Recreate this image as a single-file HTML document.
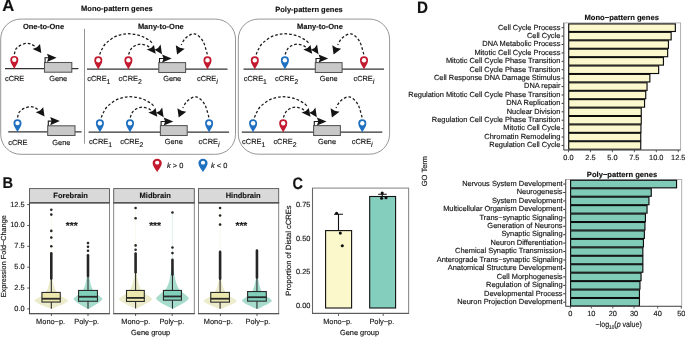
<!DOCTYPE html>
<html><head><meta charset="utf-8"><style>
html,body{margin:0;padding:0;background:#fff;width:685px;height:337px;overflow:hidden}
svg{display:block;will-change:transform}
text{font-family:'Liberation Sans', sans-serif;text-rendering:geometricPrecision;stroke:#161616;stroke-width:0.15px}
</style></head><body>
<svg width="685" height="337" viewBox="0 0 685 337" font-family="'Liberation Sans', sans-serif">
<rect width="685" height="337" fill="#fff"/>
<text transform="translate(2.20,10.75) scale(1.0,1)" x="0" y="0" font-size="16.6" font-weight="bold" fill="#111">A</text>
<text x="116.90" y="10.90" font-size="7.5" text-anchor="middle" fill="#141414" font-weight="bold">Mono-pattern genes</text>
<text x="309.00" y="11.50" font-size="7.5" text-anchor="middle" fill="#141414" font-weight="bold">Poly-pattern genes</text>
<rect x="0.7" y="19.1" width="234.8" height="135.2" rx="20" ry="20" fill="none" stroke="#8a8a8a" stroke-width="0.9"/>
<rect x="238.3" y="19.1" width="151.3" height="135.1" rx="20" ry="20" fill="none" stroke="#8a8a8a" stroke-width="0.9"/>
<line x1="84.5" y1="28.8" x2="84.5" y2="143.7" stroke="#8a8a8a" stroke-width="0.9"/>
<text x="43.50" y="29.30" font-size="7.5" text-anchor="middle" fill="#141414" font-weight="bold">One-to-One</text>
<text x="160.80" y="29.30" font-size="7.5" text-anchor="middle" fill="#141414" font-weight="bold">Many-to-One</text>
<text x="319.90" y="29.30" font-size="7.5" text-anchor="middle" fill="#141414" font-weight="bold">Many-to-One</text>
<line x1="5.00" y1="68.60" x2="78.40" y2="68.60" stroke="#333" stroke-width="1.25"/>
<rect x="44.50" y="62.50" width="27.30" height="9.70" fill="#c8c8c8" stroke="#555" stroke-width="1.05"/>
<path d="M45.10,62.50 L45.10,57.80 L49.60,57.80" fill="none" stroke="#1a1a1a" stroke-width="1.1"/>
<path d="M56.60,57.80 L47.00,53.70 L48.40,57.80 L47.00,61.90Z" fill="#141414"/>
<path d="M14.40,54.20 C14.58,53.45 14.97,50.83 15.50,49.70 C16.03,48.57 16.72,48.17 17.60,47.40 C18.48,46.63 19.25,45.78 20.80,45.10 C22.35,44.42 25.12,43.43 26.90,43.30 C28.68,43.17 30.22,43.82 31.50,44.30 C32.78,44.78 34.08,45.88 34.60,46.20" fill="none" stroke="#1a1a1a" stroke-width="1.25" stroke-dasharray="2.7 2.0"/>
<path d="M41.30,53.10 L32.60,49.00 L36.90,47.29 L40.00,44.00Z" fill="#141414"/>
<g transform="translate(14.30,69.00) scale(1.0)"><path d="M0,0 C-0.9,-2.6 -4.05,-5.6 -4.05,-9 A4.05,4.05 0 1 1 4.05,-9 C4.05,-5.6 0.9,-2.6 0,0Z" fill="#c41a30"/><circle cx="0" cy="-9.2" r="2.2" fill="#fff"/></g>
<text x="5.00" y="81.30" font-size="7.4" text-anchor="start" fill="#141414">cCRE</text>
<text x="58.20" y="81.30" font-size="7.4" text-anchor="middle" fill="#141414">Gene</text>
<line x1="8.20" y1="131.90" x2="81.60" y2="131.90" stroke="#333" stroke-width="1.25"/>
<rect x="47.70" y="125.80" width="27.30" height="9.70" fill="#c8c8c8" stroke="#555" stroke-width="1.05"/>
<path d="M48.30,125.80 L48.30,121.10 L52.80,121.10" fill="none" stroke="#1a1a1a" stroke-width="1.1"/>
<path d="M59.80,121.10 L50.20,117.00 L51.60,121.10 L50.20,125.20Z" fill="#141414"/>
<path d="M17.60,117.50 C17.78,116.75 18.17,114.13 18.70,113.00 C19.23,111.87 19.92,111.47 20.80,110.70 C21.68,109.93 22.45,109.08 24.00,108.40 C25.55,107.72 28.32,106.73 30.10,106.60 C31.88,106.47 33.42,107.12 34.70,107.60 C35.98,108.08 37.28,109.18 37.80,109.50" fill="none" stroke="#1a1a1a" stroke-width="1.25" stroke-dasharray="2.7 2.0"/>
<path d="M44.50,116.40 L35.80,112.30 L40.10,110.59 L43.20,107.30Z" fill="#141414"/>
<g transform="translate(17.50,132.30) scale(1.0)"><path d="M0,0 C-0.9,-2.6 -4.05,-5.6 -4.05,-9 A4.05,4.05 0 1 1 4.05,-9 C4.05,-5.6 0.9,-2.6 0,0Z" fill="#1f70c1"/><circle cx="0" cy="-9.2" r="2.2" fill="#fff"/></g>
<text x="8.20" y="144.60" font-size="7.4" text-anchor="start" fill="#141414">cCRE</text>
<text x="61.40" y="144.60" font-size="7.4" text-anchor="middle" fill="#141414">Gene</text>
<line x1="87.00" y1="69.20" x2="227.50" y2="69.20" stroke="#333" stroke-width="1.25"/>
<rect x="158.80" y="62.60" width="26.80" height="9.90" fill="#c8c8c8" stroke="#555" stroke-width="1.05"/>
<path d="M159.50,62.60 L159.50,58.50 L164.70,58.50" fill="none" stroke="#1a1a1a" stroke-width="1.1"/>
<path d="M171.70,58.50 L162.10,54.40 L163.50,58.50 L162.10,62.60Z" fill="#141414"/>
<path d="M99.60,54.60 C99.95,53.80 100.83,51.48 101.70,49.80 C102.57,48.12 103.53,46.05 104.80,44.50 C106.07,42.95 107.67,41.77 109.30,40.50 C110.93,39.23 112.75,37.85 114.60,36.90 C116.45,35.95 118.47,35.32 120.40,34.80 C122.33,34.28 124.23,33.93 126.20,33.80 C128.17,33.67 130.17,33.78 132.20,34.00 C134.23,34.22 136.40,34.53 138.40,35.10 C140.40,35.67 142.35,36.50 144.20,37.40 C146.05,38.30 148.10,39.47 149.50,40.50 C150.90,41.53 152.08,43.08 152.60,43.60" fill="none" stroke="#1a1a1a" stroke-width="1.25" stroke-dasharray="2.7 2.0"/>
<path d="M128.60,54.60 C128.97,53.73 129.77,50.87 130.80,49.40 C131.83,47.93 133.17,46.67 134.80,45.80 C136.43,44.93 138.67,44.27 140.60,44.20 C142.53,44.13 144.97,44.93 146.40,45.40 C147.83,45.87 148.73,46.73 149.20,47.00" fill="none" stroke="#1a1a1a" stroke-width="1.25" stroke-dasharray="2.7 2.0"/>
<path d="M207.30,54.40 C206.98,53.25 206.02,49.48 205.40,47.50 C204.78,45.52 204.45,44.15 203.60,42.50 C202.75,40.85 201.82,39.05 200.30,37.60 C198.78,36.15 196.47,34.10 194.50,33.80 C192.53,33.50 190.25,34.77 188.50,35.80 C186.75,36.83 185.22,38.47 184.00,40.00 C182.78,41.53 181.67,44.17 181.20,45.00" fill="none" stroke="#1a1a1a" stroke-width="1.25" stroke-dasharray="2.7 2.0"/>
<path d="M155.70,53.80 L146.80,49.40 L151.04,47.95 L154.00,44.90Z" fill="#141414"/>
<path d="M162.00,54.30 L154.40,49.80 L158.04,48.01 L160.60,44.50Z" fill="#141414"/>
<path d="M177.10,54.50 L175.80,45.20 L179.87,47.86 L184.70,48.70Z" fill="#141414"/>
<g transform="translate(98.30,69.40) scale(1.0)"><path d="M0,0 C-0.9,-2.6 -4.05,-5.6 -4.05,-9 A4.05,4.05 0 1 1 4.05,-9 C4.05,-5.6 0.9,-2.6 0,0Z" fill="#c41a30"/><circle cx="0" cy="-9.2" r="2.2" fill="#fff"/></g>
<g transform="translate(128.40,69.40) scale(1.0)"><path d="M0,0 C-0.9,-2.6 -4.05,-5.6 -4.05,-9 A4.05,4.05 0 1 1 4.05,-9 C4.05,-5.6 0.9,-2.6 0,0Z" fill="#c41a30"/><circle cx="0" cy="-9.2" r="2.2" fill="#fff"/></g>
<g transform="translate(207.50,69.40) scale(1.0)"><path d="M0,0 C-0.9,-2.6 -4.05,-5.6 -4.05,-9 A4.05,4.05 0 1 1 4.05,-9 C4.05,-5.6 0.9,-2.6 0,0Z" fill="#c41a30"/><circle cx="0" cy="-9.2" r="2.2" fill="#fff"/></g>
<text x="87.30" y="81.30" font-size="7.4" fill="#141414">cCRE<tspan dy="2.5" font-size="6.9">1</tspan></text>
<text x="118.60" y="81.30" font-size="7.4" fill="#141414">cCRE<tspan dy="2.5" font-size="6.9">2</tspan></text>
<text x="172.20" y="81.30" font-size="7.4" text-anchor="middle" fill="#141414">Gene</text>
<text x="197.00" y="81.30" font-size="7.4" fill="#141414">cCRE<tspan dy="2.9" font-size="7.3" font-style="italic">i</tspan></text>
<line x1="88.60" y1="132.20" x2="229.10" y2="132.20" stroke="#333" stroke-width="1.25"/>
<rect x="160.40" y="125.60" width="26.80" height="9.90" fill="#c8c8c8" stroke="#555" stroke-width="1.05"/>
<path d="M161.10,125.60 L161.10,121.50 L166.30,121.50" fill="none" stroke="#1a1a1a" stroke-width="1.1"/>
<path d="M173.30,121.50 L163.70,117.40 L165.10,121.50 L163.70,125.60Z" fill="#141414"/>
<path d="M101.20,117.60 C101.55,116.80 102.43,114.48 103.30,112.80 C104.17,111.12 105.13,109.05 106.40,107.50 C107.67,105.95 109.27,104.77 110.90,103.50 C112.53,102.23 114.35,100.85 116.20,99.90 C118.05,98.95 120.07,98.32 122.00,97.80 C123.93,97.28 125.83,96.93 127.80,96.80 C129.77,96.67 131.77,96.78 133.80,97.00 C135.83,97.22 138.00,97.53 140.00,98.10 C142.00,98.67 143.95,99.50 145.80,100.40 C147.65,101.30 149.70,102.47 151.10,103.50 C152.50,104.53 153.68,106.08 154.20,106.60" fill="none" stroke="#1a1a1a" stroke-width="1.25" stroke-dasharray="2.7 2.0"/>
<path d="M130.20,117.60 C130.57,116.73 131.37,113.87 132.40,112.40 C133.43,110.93 134.77,109.67 136.40,108.80 C138.03,107.93 140.27,107.27 142.20,107.20 C144.13,107.13 146.57,107.93 148.00,108.40 C149.43,108.87 150.33,109.73 150.80,110.00" fill="none" stroke="#1a1a1a" stroke-width="1.25" stroke-dasharray="2.7 2.0"/>
<path d="M208.90,117.40 C208.58,116.25 207.62,112.48 207.00,110.50 C206.38,108.52 206.05,107.15 205.20,105.50 C204.35,103.85 203.42,102.05 201.90,100.60 C200.38,99.15 198.07,97.10 196.10,96.80 C194.13,96.50 191.85,97.77 190.10,98.80 C188.35,99.83 186.82,101.47 185.60,103.00 C184.38,104.53 183.27,107.17 182.80,108.00" fill="none" stroke="#1a1a1a" stroke-width="1.25" stroke-dasharray="2.7 2.0"/>
<path d="M157.30,116.80 L148.40,112.40 L152.64,110.95 L155.60,107.90Z" fill="#141414"/>
<path d="M163.60,117.30 L156.00,112.80 L159.64,111.01 L162.20,107.50Z" fill="#141414"/>
<path d="M178.70,117.50 L177.40,108.20 L181.47,110.86 L186.30,111.70Z" fill="#141414"/>
<g transform="translate(99.90,132.40) scale(1.0)"><path d="M0,0 C-0.9,-2.6 -4.05,-5.6 -4.05,-9 A4.05,4.05 0 1 1 4.05,-9 C4.05,-5.6 0.9,-2.6 0,0Z" fill="#1f70c1"/><circle cx="0" cy="-9.2" r="2.2" fill="#fff"/></g>
<g transform="translate(130.00,132.40) scale(1.0)"><path d="M0,0 C-0.9,-2.6 -4.05,-5.6 -4.05,-9 A4.05,4.05 0 1 1 4.05,-9 C4.05,-5.6 0.9,-2.6 0,0Z" fill="#1f70c1"/><circle cx="0" cy="-9.2" r="2.2" fill="#fff"/></g>
<g transform="translate(209.10,132.40) scale(1.0)"><path d="M0,0 C-0.9,-2.6 -4.05,-5.6 -4.05,-9 A4.05,4.05 0 1 1 4.05,-9 C4.05,-5.6 0.9,-2.6 0,0Z" fill="#1f70c1"/><circle cx="0" cy="-9.2" r="2.2" fill="#fff"/></g>
<text x="88.90" y="144.30" font-size="7.4" fill="#141414">cCRE<tspan dy="2.5" font-size="6.9">1</tspan></text>
<text x="120.20" y="144.30" font-size="7.4" fill="#141414">cCRE<tspan dy="2.5" font-size="6.9">2</tspan></text>
<text x="173.80" y="144.30" font-size="7.4" text-anchor="middle" fill="#141414">Gene</text>
<text x="198.60" y="144.30" font-size="7.4" fill="#141414">cCRE<tspan dy="2.9" font-size="7.3" font-style="italic">i</tspan></text>
<line x1="243.50" y1="69.20" x2="384.00" y2="69.20" stroke="#333" stroke-width="1.25"/>
<rect x="315.30" y="62.60" width="26.80" height="9.90" fill="#c8c8c8" stroke="#555" stroke-width="1.05"/>
<path d="M316.00,62.60 L316.00,58.50 L321.20,58.50" fill="none" stroke="#1a1a1a" stroke-width="1.1"/>
<path d="M328.20,58.50 L318.60,54.40 L320.00,58.50 L318.60,62.60Z" fill="#141414"/>
<path d="M256.10,54.60 C256.45,53.80 257.33,51.48 258.20,49.80 C259.07,48.12 260.03,46.05 261.30,44.50 C262.57,42.95 264.17,41.77 265.80,40.50 C267.43,39.23 269.25,37.85 271.10,36.90 C272.95,35.95 274.97,35.32 276.90,34.80 C278.83,34.28 280.73,33.93 282.70,33.80 C284.67,33.67 286.67,33.78 288.70,34.00 C290.73,34.22 292.90,34.53 294.90,35.10 C296.90,35.67 298.85,36.50 300.70,37.40 C302.55,38.30 304.60,39.47 306.00,40.50 C307.40,41.53 308.58,43.08 309.10,43.60" fill="none" stroke="#1a1a1a" stroke-width="1.25" stroke-dasharray="2.7 2.0"/>
<path d="M285.10,54.60 C285.47,53.73 286.27,50.87 287.30,49.40 C288.33,47.93 289.67,46.67 291.30,45.80 C292.93,44.93 295.17,44.27 297.10,44.20 C299.03,44.13 301.47,44.93 302.90,45.40 C304.33,45.87 305.23,46.73 305.70,47.00" fill="none" stroke="#1a1a1a" stroke-width="1.25" stroke-dasharray="2.7 2.0"/>
<path d="M363.80,54.40 C363.48,53.25 362.52,49.48 361.90,47.50 C361.28,45.52 360.95,44.15 360.10,42.50 C359.25,40.85 358.32,39.05 356.80,37.60 C355.28,36.15 352.97,34.10 351.00,33.80 C349.03,33.50 346.75,34.77 345.00,35.80 C343.25,36.83 341.72,38.47 340.50,40.00 C339.28,41.53 338.17,44.17 337.70,45.00" fill="none" stroke="#1a1a1a" stroke-width="1.25" stroke-dasharray="2.7 2.0"/>
<path d="M312.20,53.80 L303.30,49.40 L307.54,47.95 L310.50,44.90Z" fill="#141414"/>
<path d="M318.50,54.30 L310.90,49.80 L314.54,48.01 L317.10,44.50Z" fill="#141414"/>
<path d="M333.60,54.50 L332.30,45.20 L336.37,47.86 L341.20,48.70Z" fill="#141414"/>
<g transform="translate(254.80,69.40) scale(1.0)"><path d="M0,0 C-0.9,-2.6 -4.05,-5.6 -4.05,-9 A4.05,4.05 0 1 1 4.05,-9 C4.05,-5.6 0.9,-2.6 0,0Z" fill="#c41a30"/><circle cx="0" cy="-9.2" r="2.2" fill="#fff"/></g>
<g transform="translate(284.90,69.40) scale(1.0)"><path d="M0,0 C-0.9,-2.6 -4.05,-5.6 -4.05,-9 A4.05,4.05 0 1 1 4.05,-9 C4.05,-5.6 0.9,-2.6 0,0Z" fill="#1f70c1"/><circle cx="0" cy="-9.2" r="2.2" fill="#fff"/></g>
<g transform="translate(364.00,69.40) scale(1.0)"><path d="M0,0 C-0.9,-2.6 -4.05,-5.6 -4.05,-9 A4.05,4.05 0 1 1 4.05,-9 C4.05,-5.6 0.9,-2.6 0,0Z" fill="#c41a30"/><circle cx="0" cy="-9.2" r="2.2" fill="#fff"/></g>
<text x="243.80" y="81.30" font-size="7.4" fill="#141414">cCRE<tspan dy="2.5" font-size="6.9">1</tspan></text>
<text x="275.10" y="81.30" font-size="7.4" fill="#141414">cCRE<tspan dy="2.5" font-size="6.9">2</tspan></text>
<text x="328.70" y="81.30" font-size="7.4" text-anchor="middle" fill="#141414">Gene</text>
<text x="353.50" y="81.30" font-size="7.4" fill="#141414">cCRE<tspan dy="2.9" font-size="7.3" font-style="italic">i</tspan></text>
<line x1="241.80" y1="132.20" x2="382.30" y2="132.20" stroke="#333" stroke-width="1.25"/>
<rect x="313.60" y="125.60" width="26.80" height="9.90" fill="#c8c8c8" stroke="#555" stroke-width="1.05"/>
<path d="M314.30,125.60 L314.30,121.50 L319.50,121.50" fill="none" stroke="#1a1a1a" stroke-width="1.1"/>
<path d="M326.50,121.50 L316.90,117.40 L318.30,121.50 L316.90,125.60Z" fill="#141414"/>
<path d="M254.40,117.60 C254.75,116.80 255.63,114.48 256.50,112.80 C257.37,111.12 258.33,109.05 259.60,107.50 C260.87,105.95 262.47,104.77 264.10,103.50 C265.73,102.23 267.55,100.85 269.40,99.90 C271.25,98.95 273.27,98.32 275.20,97.80 C277.13,97.28 279.03,96.93 281.00,96.80 C282.97,96.67 284.97,96.78 287.00,97.00 C289.03,97.22 291.20,97.53 293.20,98.10 C295.20,98.67 297.15,99.50 299.00,100.40 C300.85,101.30 302.90,102.47 304.30,103.50 C305.70,104.53 306.88,106.08 307.40,106.60" fill="none" stroke="#1a1a1a" stroke-width="1.25" stroke-dasharray="2.7 2.0"/>
<path d="M283.40,117.60 C283.77,116.73 284.57,113.87 285.60,112.40 C286.63,110.93 287.97,109.67 289.60,108.80 C291.23,107.93 293.47,107.27 295.40,107.20 C297.33,107.13 299.77,107.93 301.20,108.40 C302.63,108.87 303.53,109.73 304.00,110.00" fill="none" stroke="#1a1a1a" stroke-width="1.25" stroke-dasharray="2.7 2.0"/>
<path d="M362.10,117.40 C361.78,116.25 360.82,112.48 360.20,110.50 C359.58,108.52 359.25,107.15 358.40,105.50 C357.55,103.85 356.62,102.05 355.10,100.60 C353.58,99.15 351.27,97.10 349.30,96.80 C347.33,96.50 345.05,97.77 343.30,98.80 C341.55,99.83 340.02,101.47 338.80,103.00 C337.58,104.53 336.47,107.17 336.00,108.00" fill="none" stroke="#1a1a1a" stroke-width="1.25" stroke-dasharray="2.7 2.0"/>
<path d="M310.50,116.80 L301.60,112.40 L305.84,110.95 L308.80,107.90Z" fill="#141414"/>
<path d="M316.80,117.30 L309.20,112.80 L312.84,111.01 L315.40,107.50Z" fill="#141414"/>
<path d="M331.90,117.50 L330.60,108.20 L334.67,110.86 L339.50,111.70Z" fill="#141414"/>
<g transform="translate(253.10,132.40) scale(1.0)"><path d="M0,0 C-0.9,-2.6 -4.05,-5.6 -4.05,-9 A4.05,4.05 0 1 1 4.05,-9 C4.05,-5.6 0.9,-2.6 0,0Z" fill="#1f70c1"/><circle cx="0" cy="-9.2" r="2.2" fill="#fff"/></g>
<g transform="translate(283.20,132.40) scale(1.0)"><path d="M0,0 C-0.9,-2.6 -4.05,-5.6 -4.05,-9 A4.05,4.05 0 1 1 4.05,-9 C4.05,-5.6 0.9,-2.6 0,0Z" fill="#c41a30"/><circle cx="0" cy="-9.2" r="2.2" fill="#fff"/></g>
<g transform="translate(362.30,132.40) scale(1.0)"><path d="M0,0 C-0.9,-2.6 -4.05,-5.6 -4.05,-9 A4.05,4.05 0 1 1 4.05,-9 C4.05,-5.6 0.9,-2.6 0,0Z" fill="#1f70c1"/><circle cx="0" cy="-9.2" r="2.2" fill="#fff"/></g>
<text x="242.10" y="144.30" font-size="7.4" fill="#141414">cCRE<tspan dy="2.5" font-size="6.9">1</tspan></text>
<text x="273.40" y="144.30" font-size="7.4" fill="#141414">cCRE<tspan dy="2.5" font-size="6.9">2</tspan></text>
<text x="327.00" y="144.30" font-size="7.4" text-anchor="middle" fill="#141414">Gene</text>
<text x="351.80" y="144.30" font-size="7.4" fill="#141414">cCRE<tspan dy="2.9" font-size="7.3" font-style="italic">i</tspan></text>
<g transform="translate(157.20,172.30) scale(1.13,1.04)"><path d="M0,0 C-0.9,-2.6 -4.05,-5.6 -4.05,-9 A4.05,4.05 0 1 1 4.05,-9 C4.05,-5.6 0.9,-2.6 0,0Z" fill="#c41a30"/><circle cx="0" cy="-9.3" r="1.85" fill="#fff"/></g>
<text x="167.0" y="168.0" font-size="7.4" fill="#141414"><tspan font-style="italic">k</tspan> &gt; 0</text>
<g transform="translate(203.00,172.30) scale(1.13,1.04)"><path d="M0,0 C-0.9,-2.6 -4.05,-5.6 -4.05,-9 A4.05,4.05 0 1 1 4.05,-9 C4.05,-5.6 0.9,-2.6 0,0Z" fill="#1f70c1"/><circle cx="0" cy="-9.3" r="1.85" fill="#fff"/></g>
<text x="211.0" y="168.0" font-size="7.4" fill="#141414"><tspan font-style="italic">k</tspan> &lt; 0</text>
<text transform="translate(2.60,187.70) scale(0.94,1)" x="0" y="0" font-size="15.6" font-weight="bold" fill="#111">B</text>
<rect x="29.50" y="188.6" width="80.00" height="14.4" fill="#d9d9d9" stroke="#555" stroke-width="0.9"/>
<rect x="29.50" y="203.0" width="80.00" height="110.70" fill="#fff" stroke="#7a7a7a" stroke-width="0.9"/>
<line x1="29.05" y1="202.8" x2="109.95" y2="202.8" stroke="#555" stroke-width="1.4"/>
<text x="70.60" y="198.40" font-size="7.5" text-anchor="middle" fill="#141414" font-weight="bold">Forebrain</text>
<rect x="113.70" y="188.6" width="80.60" height="14.4" fill="#d9d9d9" stroke="#555" stroke-width="0.9"/>
<rect x="113.70" y="203.0" width="80.60" height="110.70" fill="#fff" stroke="#7a7a7a" stroke-width="0.9"/>
<line x1="113.25" y1="202.8" x2="194.75" y2="202.8" stroke="#555" stroke-width="1.4"/>
<text x="155.20" y="198.40" font-size="7.5" text-anchor="middle" fill="#141414" font-weight="bold">Midbrain</text>
<rect x="198.50" y="188.6" width="80.20" height="14.4" fill="#d9d9d9" stroke="#555" stroke-width="0.9"/>
<rect x="198.50" y="203.0" width="80.20" height="110.70" fill="#fff" stroke="#7a7a7a" stroke-width="0.9"/>
<line x1="198.05" y1="202.8" x2="279.15" y2="202.8" stroke="#555" stroke-width="1.4"/>
<text x="243.20" y="198.40" font-size="7.5" text-anchor="middle" fill="#141414" font-weight="bold">Hindbrain</text>
<line x1="29.5" y1="203" x2="29.5" y2="313.7" stroke="#444" stroke-width="1"/>
<line x1="27.2" y1="204.60" x2="29.5" y2="204.60" stroke="#444" stroke-width="0.9"/>
<text x="24.60" y="206.50" font-size="7.4" text-anchor="end" fill="#1a1a1a">12.5</text>
<line x1="27.2" y1="225.46" x2="29.5" y2="225.46" stroke="#444" stroke-width="0.9"/>
<text x="24.60" y="227.36" font-size="7.4" text-anchor="end" fill="#1a1a1a">10.0</text>
<line x1="27.2" y1="246.32" x2="29.5" y2="246.32" stroke="#444" stroke-width="0.9"/>
<text x="24.60" y="248.22" font-size="7.4" text-anchor="end" fill="#1a1a1a">7.5</text>
<line x1="27.2" y1="267.18" x2="29.5" y2="267.18" stroke="#444" stroke-width="0.9"/>
<text x="24.60" y="269.08" font-size="7.4" text-anchor="end" fill="#1a1a1a">5.0</text>
<line x1="27.2" y1="288.04" x2="29.5" y2="288.04" stroke="#444" stroke-width="0.9"/>
<text x="24.60" y="289.94" font-size="7.4" text-anchor="end" fill="#1a1a1a">2.5</text>
<line x1="27.2" y1="308.90" x2="29.5" y2="308.90" stroke="#444" stroke-width="0.9"/>
<text x="24.60" y="310.80" font-size="7.4" text-anchor="end" fill="#1a1a1a">0.0</text>
<line x1="29.00" y1="313.7" x2="110.00" y2="313.7" stroke="#444" stroke-width="1"/>
<line x1="51.40" y1="313.7" x2="51.40" y2="316.0" stroke="#444" stroke-width="0.9"/>
<text x="50.60" y="324.20" font-size="7.4" text-anchor="middle" fill="#1a1a1a">Mono−p.</text>
<line x1="88.00" y1="313.7" x2="88.00" y2="316.0" stroke="#444" stroke-width="0.9"/>
<text x="86.70" y="324.20" font-size="7.4" text-anchor="middle" fill="#1a1a1a">Poly−p.</text>
<line x1="113.20" y1="313.7" x2="194.80" y2="313.7" stroke="#444" stroke-width="1"/>
<line x1="135.60" y1="313.7" x2="135.60" y2="316.0" stroke="#444" stroke-width="0.9"/>
<text x="135.80" y="324.20" font-size="7.4" text-anchor="middle" fill="#1a1a1a">Mono−p.</text>
<line x1="172.20" y1="313.7" x2="172.20" y2="316.0" stroke="#444" stroke-width="0.9"/>
<text x="171.85" y="324.20" font-size="7.4" text-anchor="middle" fill="#1a1a1a">Poly−p.</text>
<line x1="198.00" y1="313.7" x2="279.20" y2="313.7" stroke="#444" stroke-width="1"/>
<line x1="220.40" y1="313.7" x2="220.40" y2="316.0" stroke="#444" stroke-width="0.9"/>
<text x="218.30" y="324.20" font-size="7.4" text-anchor="middle" fill="#1a1a1a">Mono−p.</text>
<line x1="257.00" y1="313.7" x2="257.00" y2="316.0" stroke="#444" stroke-width="0.9"/>
<text x="257.90" y="324.20" font-size="7.4" text-anchor="middle" fill="#1a1a1a">Poly−p.</text>
<text transform="translate(6.4,256.3) rotate(-90)" x="0" y="0" font-size="7.3" text-anchor="middle" fill="#141414">Expression Fold−Change</text>
<text x="150.60" y="334.60" font-size="7.4" text-anchor="middle" fill="#141414">Gene group</text>
<text x="71.70" y="229.30" font-size="10.2" text-anchor="middle" fill="#1a1a1a" font-weight="bold">***</text>
<text x="155.10" y="229.30" font-size="10.2" text-anchor="middle" fill="#1a1a1a" font-weight="bold">***</text>
<text x="241.40" y="229.30" font-size="10.2" text-anchor="middle" fill="#1a1a1a" font-weight="bold">***</text>
<line x1="51.30" y1="209.70" x2="51.30" y2="276.50" stroke="#ecebcb" stroke-width="0.6" stroke-opacity="0.6"/>
<path d="M51.80,276.50 C51.91,276.98 52.12,277.95 52.47,279.40 C52.82,280.86 53.33,283.36 53.89,285.21 C54.45,287.07 54.93,288.96 55.81,290.54 C56.69,292.11 57.62,293.36 59.15,294.65 C60.68,295.94 63.52,297.27 64.99,298.28 C66.47,299.29 67.78,300.03 68.00,300.70 C68.22,301.37 67.00,301.81 66.33,302.30 C65.66,302.79 65.05,303.13 63.99,303.66 C62.93,304.19 61.29,304.93 59.98,305.50 C58.68,306.07 57.48,306.57 56.14,307.10 C54.81,307.63 53.58,308.70 51.97,308.70 C50.35,308.70 48.02,307.63 46.46,307.10 C44.90,306.57 43.92,306.07 42.62,305.50 C41.31,304.93 39.67,304.19 38.61,303.66 C37.55,303.13 36.94,302.79 36.27,302.30 C35.60,301.81 34.38,301.37 34.60,300.70 C34.82,300.03 36.13,299.29 37.61,298.28 C39.08,297.27 41.92,295.94 43.45,294.65 C44.98,293.36 45.91,292.11 46.79,290.54 C47.67,288.96 48.15,287.07 48.71,285.21 C49.27,283.36 49.78,280.86 50.13,279.40 C50.48,277.95 50.69,276.98 50.80,276.50Z" fill="#ecebcb"/>
<line x1="51.30" y1="278.60" x2="51.30" y2="308.70" stroke="#262626" stroke-width="1.05"/>
<line x1="51.30" y1="253.30" x2="51.30" y2="278.60" stroke="#262626" stroke-width="2.6" stroke-linecap="round"/>
<circle cx="51.30" cy="209.70" r="1.3" fill="#262626"/>
<circle cx="51.30" cy="214.60" r="1.3" fill="#262626"/>
<circle cx="51.30" cy="230.90" r="1.3" fill="#262626"/>
<circle cx="51.30" cy="237.60" r="1.3" fill="#262626"/>
<circle cx="51.30" cy="246.30" r="1.3" fill="#262626"/>
<rect x="41.95" y="292.45" width="18.30" height="9.60" fill="#ece7ac" stroke="#2a2a2a" stroke-width="1.1"/>
<line x1="41.95" y1="298.75" x2="60.25" y2="298.75" stroke="#2a2a2a" stroke-width="1.8"/>
<line x1="88.00" y1="243.00" x2="88.00" y2="273.00" stroke="#a7dccd" stroke-width="0.6" stroke-opacity="0.6"/>
<path d="M88.43,273.00 C88.53,273.51 88.71,274.54 89.01,276.08 C89.31,277.63 89.75,280.28 90.23,282.25 C90.71,284.22 91.13,286.24 91.89,287.91 C92.64,289.58 93.45,290.90 94.77,292.27 C96.09,293.65 98.54,295.06 99.81,296.13 C101.08,297.20 102.21,297.94 102.40,298.70 C102.59,299.46 101.54,300.08 100.96,300.70 C100.38,301.32 99.86,301.73 98.94,302.40 C98.03,303.07 96.62,303.98 95.49,304.70 C94.36,305.42 93.33,306.03 92.18,306.70 C91.02,307.37 89.97,308.70 88.58,308.70 C87.18,308.70 85.17,307.37 83.82,306.70 C82.48,306.03 81.64,305.42 80.51,304.70 C79.38,303.98 77.97,303.07 77.06,302.40 C76.14,301.73 75.62,301.32 75.04,300.70 C74.46,300.08 73.41,299.46 73.60,298.70 C73.79,297.94 74.92,297.20 76.19,296.13 C77.46,295.06 79.91,293.65 81.23,292.27 C82.55,290.90 83.36,289.58 84.11,287.91 C84.87,286.24 85.29,284.22 85.77,282.25 C86.25,280.28 86.69,277.63 86.99,276.08 C87.29,274.54 87.47,273.51 87.57,273.00Z" fill="#a7dccd"/>
<line x1="88.00" y1="276.00" x2="88.00" y2="308.70" stroke="#262626" stroke-width="1.05"/>
<line x1="88.00" y1="255.20" x2="88.00" y2="276.00" stroke="#262626" stroke-width="2.6" stroke-linecap="round"/>
<circle cx="88.00" cy="243.00" r="1.3" fill="#262626"/>
<circle cx="88.00" cy="246.70" r="1.3" fill="#262626"/>
<circle cx="88.00" cy="250.70" r="1.3" fill="#262626"/>
<rect x="78.55" y="290.45" width="18.90" height="10.80" fill="#80d0bc" stroke="#2a2a2a" stroke-width="1.1"/>
<line x1="78.55" y1="296.75" x2="97.45" y2="296.75" stroke="#2a2a2a" stroke-width="1.8"/>
<line x1="135.60" y1="208.00" x2="135.60" y2="271.50" stroke="#ecebcb" stroke-width="0.6" stroke-opacity="0.6"/>
<path d="M136.10,271.50 C136.21,272.05 136.42,273.16 136.76,274.81 C137.11,276.47 137.62,279.32 138.17,281.44 C138.73,283.55 139.21,285.71 140.08,287.51 C140.95,289.30 141.88,290.73 143.40,292.20 C144.92,293.67 147.75,295.19 149.21,296.34 C150.68,297.49 151.98,298.33 152.20,299.10 C152.42,299.87 151.20,300.39 150.54,300.96 C149.88,301.53 149.27,301.92 148.22,302.54 C147.16,303.16 145.53,304.01 144.23,304.68 C142.93,305.35 141.74,305.92 140.41,306.54 C139.09,307.16 137.87,308.40 136.26,308.40 C134.66,308.40 132.34,307.16 130.79,306.54 C129.24,305.92 128.27,305.35 126.97,304.68 C125.67,304.01 124.04,303.16 122.98,302.54 C121.93,301.92 121.32,301.53 120.66,300.96 C120.00,300.39 118.78,299.87 119.00,299.10 C119.22,298.33 120.52,297.49 121.99,296.34 C123.45,295.19 126.28,293.67 127.80,292.20 C129.32,290.73 130.25,289.30 131.12,287.51 C131.99,285.71 132.47,283.55 133.03,281.44 C133.58,279.32 134.09,276.47 134.44,274.81 C134.78,273.16 134.99,272.05 135.10,271.50Z" fill="#ecebcb"/>
<line x1="135.60" y1="272.20" x2="135.60" y2="308.40" stroke="#262626" stroke-width="1.05"/>
<line x1="135.60" y1="253.50" x2="135.60" y2="272.20" stroke="#262626" stroke-width="2.6" stroke-linecap="round"/>
<circle cx="135.60" cy="208.00" r="1.3" fill="#262626"/>
<circle cx="135.60" cy="218.20" r="1.3" fill="#262626"/>
<circle cx="135.60" cy="245.40" r="1.3" fill="#262626"/>
<circle cx="135.60" cy="249.80" r="1.3" fill="#262626"/>
<rect x="126.50" y="290.45" width="17.80" height="11.00" fill="#ece7ac" stroke="#2a2a2a" stroke-width="1.1"/>
<line x1="126.50" y1="297.90" x2="144.30" y2="297.90" stroke="#2a2a2a" stroke-width="1.8"/>
<line x1="172.45" y1="212.50" x2="172.45" y2="266.00" stroke="#a7dccd" stroke-width="0.6" stroke-opacity="0.6"/>
<path d="M172.94,266.00 C173.05,266.65 173.25,267.94 173.59,269.88 C173.93,271.81 174.43,275.15 174.98,277.63 C175.52,280.10 176.00,282.63 176.85,284.73 C177.71,286.83 178.62,288.50 180.11,290.23 C181.61,291.95 184.38,293.72 185.82,295.07 C187.26,296.42 188.53,297.42 188.75,298.30 C188.97,299.19 187.77,299.74 187.12,300.38 C186.47,301.02 185.87,301.45 184.84,302.15 C183.81,302.84 182.20,303.79 180.93,304.54 C179.65,305.29 178.48,305.93 177.18,306.62 C175.87,307.31 174.68,308.70 173.10,308.70 C171.53,308.70 169.24,307.31 167.72,306.62 C166.20,305.93 165.25,305.29 163.97,304.54 C162.70,303.79 161.09,302.84 160.06,302.15 C159.03,301.45 158.43,301.02 157.78,300.38 C157.13,299.74 155.93,299.19 156.15,298.30 C156.37,297.42 157.64,296.42 159.08,295.07 C160.52,293.72 163.29,291.95 164.79,290.23 C166.28,288.50 167.19,286.83 168.05,284.73 C168.90,282.63 169.38,280.10 169.92,277.63 C170.47,275.15 170.97,271.81 171.31,269.88 C171.65,267.94 171.85,266.65 171.96,266.00Z" fill="#a7dccd"/>
<line x1="172.45" y1="274.60" x2="172.45" y2="308.70" stroke="#262626" stroke-width="1.05"/>
<line x1="172.45" y1="259.70" x2="172.45" y2="274.60" stroke="#262626" stroke-width="2.6" stroke-linecap="round"/>
<circle cx="172.45" cy="212.50" r="1.3" fill="#262626"/>
<circle cx="172.45" cy="247.50" r="1.3" fill="#262626"/>
<circle cx="172.45" cy="253.10" r="1.3" fill="#262626"/>
<rect x="163.45" y="290.45" width="18.00" height="9.70" fill="#80d0bc" stroke="#2a2a2a" stroke-width="1.1"/>
<line x1="163.45" y1="296.45" x2="181.45" y2="296.45" stroke="#2a2a2a" stroke-width="1.8"/>
<line x1="220.10" y1="208.00" x2="220.10" y2="277.00" stroke="#ecebcb" stroke-width="0.6" stroke-opacity="0.6"/>
<path d="M220.60,277.00 C220.71,277.48 220.92,278.43 221.26,279.87 C221.61,281.30 222.12,283.77 222.67,285.60 C223.23,287.44 223.71,289.31 224.58,290.86 C225.45,292.42 226.38,293.65 227.90,294.92 C229.42,296.20 232.25,297.51 233.71,298.51 C235.18,299.51 236.48,300.24 236.70,300.90 C236.92,301.56 235.70,301.99 235.04,302.48 C234.38,302.97 233.77,303.30 232.72,303.82 C231.66,304.35 230.03,305.07 228.73,305.64 C227.43,306.21 226.24,306.69 224.91,307.22 C223.59,307.75 222.37,308.80 220.76,308.80 C219.16,308.80 216.84,307.75 215.29,307.22 C213.74,306.69 212.77,306.21 211.47,305.64 C210.17,305.07 208.54,304.35 207.48,303.82 C206.43,303.30 205.82,302.97 205.16,302.48 C204.50,301.99 203.28,301.56 203.50,300.90 C203.72,300.24 205.02,299.51 206.49,298.51 C207.95,297.51 210.78,296.20 212.30,294.92 C213.82,293.65 214.75,292.42 215.62,290.86 C216.49,289.31 216.97,287.44 217.53,285.60 C218.08,283.77 218.59,281.30 218.94,279.87 C219.28,278.43 219.49,277.48 219.60,277.00Z" fill="#ecebcb"/>
<line x1="220.10" y1="278.80" x2="220.10" y2="308.80" stroke="#262626" stroke-width="1.05"/>
<line x1="220.10" y1="251.90" x2="220.10" y2="278.80" stroke="#262626" stroke-width="2.6" stroke-linecap="round"/>
<circle cx="220.10" cy="208.00" r="1.3" fill="#262626"/>
<circle cx="220.10" cy="215.50" r="1.3" fill="#262626"/>
<circle cx="220.10" cy="224.60" r="1.3" fill="#262626"/>
<rect x="210.75" y="292.45" width="18.70" height="9.70" fill="#ece7ac" stroke="#2a2a2a" stroke-width="1.1"/>
<line x1="210.75" y1="298.75" x2="229.45" y2="298.75" stroke="#2a2a2a" stroke-width="1.8"/>
<line x1="256.95" y1="249.40" x2="256.95" y2="275.50" stroke="#a7dccd" stroke-width="0.6" stroke-opacity="0.6"/>
<path d="M257.40,275.50 C257.50,276.00 257.68,277.01 257.99,278.51 C258.30,280.02 258.76,282.61 259.26,284.54 C259.76,286.46 260.19,288.43 260.97,290.06 C261.76,291.69 262.59,292.99 263.95,294.33 C265.32,295.66 267.85,297.04 269.17,298.09 C270.48,299.14 271.65,299.91 271.85,300.60 C272.05,301.29 270.96,301.73 270.36,302.24 C269.76,302.75 269.22,303.09 268.27,303.63 C267.33,304.18 265.87,304.93 264.70,305.52 C263.53,306.11 262.46,306.61 261.27,307.16 C260.08,307.71 258.99,308.80 257.55,308.80 C256.11,308.80 254.02,307.71 252.63,307.16 C251.24,306.61 250.37,306.11 249.20,305.52 C248.03,304.93 246.57,304.18 245.63,303.63 C244.68,303.09 244.14,302.75 243.54,302.24 C242.94,301.73 241.85,301.29 242.05,300.60 C242.25,299.91 243.42,299.14 244.73,298.09 C246.05,297.04 248.58,295.66 249.95,294.33 C251.31,292.99 252.14,291.69 252.93,290.06 C253.71,288.43 254.14,286.46 254.64,284.54 C255.14,282.61 255.60,280.02 255.91,278.51 C256.22,277.01 256.40,276.00 256.50,275.50Z" fill="#a7dccd"/>
<line x1="256.95" y1="277.50" x2="256.95" y2="308.80" stroke="#262626" stroke-width="1.05"/>
<line x1="256.95" y1="250.50" x2="256.95" y2="277.50" stroke="#262626" stroke-width="2.6" stroke-linecap="round"/>
<rect x="247.60" y="291.55" width="18.70" height="9.60" fill="#80d0bc" stroke="#2a2a2a" stroke-width="1.1"/>
<line x1="247.60" y1="297.20" x2="266.30" y2="297.20" stroke="#2a2a2a" stroke-width="1.8"/>
<text transform="translate(292.50,188.60) scale(0.87,1)" x="0" y="0" font-size="16.6" font-weight="bold" fill="#111">C</text>
<rect x="312.5" y="188.1" width="96.1" height="125.3" fill="#fff" stroke="#8c8c8c" stroke-width="1.1"/>
<line x1="312.5" y1="188.1" x2="312.5" y2="313.4" stroke="#666" stroke-width="1"/>
<line x1="312" y1="313.4" x2="409" y2="313.4" stroke="#555" stroke-width="1"/>
<text x="310.40" y="207.30" font-size="7.4" text-anchor="end" fill="#1a1a1a">0.75</text>
<text x="310.40" y="240.70" font-size="7.4" text-anchor="end" fill="#1a1a1a">0.50</text>
<text x="310.40" y="274.30" font-size="7.4" text-anchor="end" fill="#1a1a1a">0.25</text>
<text x="310.40" y="307.90" font-size="7.4" text-anchor="end" fill="#1a1a1a">0.00</text>
<rect x="325.6" y="230.6" width="26.0" height="77.4" fill="#fbf8cc" stroke="#111" stroke-width="1.1"/>
<rect x="369.7" y="196.5" width="25.9" height="111.5" fill="#84cebd" stroke="#111" stroke-width="1.1"/>
<path d="M338.5,230.6 L338.5,214.2 M334.0,214.2 L343.0,214.2" stroke="#111" stroke-width="1.1" fill="none"/>
<path d="M382.3,196.5 L382.3,194.2 M378.2,194.2 L386.8,194.2" stroke="#111" stroke-width="1.1" fill="none"/>
<circle cx="336.60" cy="213.20" r="1.55" fill="#111"/>
<circle cx="340.30" cy="233.10" r="1.55" fill="#111"/>
<circle cx="342.30" cy="245.70" r="1.55" fill="#111"/>
<circle cx="382.20" cy="193.00" r="1.55" fill="#111"/>
<circle cx="381.60" cy="198.30" r="1.55" fill="#111"/>
<circle cx="386.00" cy="197.70" r="1.55" fill="#111"/>
<line x1="338.50" y1="313.4" x2="338.50" y2="316.0" stroke="#555" stroke-width="0.9"/>
<text x="337.65" y="324.30" font-size="7.4" text-anchor="middle" fill="#1a1a1a">Mono−p.</text>
<line x1="383.20" y1="313.4" x2="383.20" y2="316.0" stroke="#555" stroke-width="0.9"/>
<text x="381.85" y="324.30" font-size="7.4" text-anchor="middle" fill="#1a1a1a">Poly−p.</text>
<text x="359.50" y="334.60" font-size="7.4" text-anchor="middle" fill="#141414">Gene group</text>
<text transform="translate(291.3,250.5) rotate(-90)" x="0" y="0" font-size="7.6" text-anchor="middle" fill="#141414">Proportion of Distal cCREs</text>
<text transform="translate(417.10,12.50) scale(0.92,1)" x="0" y="0" font-size="16.5" font-weight="bold" fill="#111">D</text>
<text x="621.70" y="20.30" font-size="7.6" text-anchor="middle" fill="#111" font-weight="bold">Mono−pattern genes</text>
<rect x="563.80" y="22.90" width="116.80" height="127.10" fill="#fff" stroke="#a8a8a8" stroke-width="0.9"/>
<rect x="568.70" y="23.92" width="106.65" height="7.56" fill="#fcf8ce" stroke="#0d0d0d" stroke-width="1.15"/>
<line x1="561.60" y1="27.70" x2="563.80" y2="27.70" stroke="#333" stroke-width="1"/>
<text x="560.40" y="29.50" font-size="7.44" text-anchor="end" fill="#141414">Cell Cycle Process</text>
<rect x="568.70" y="32.33" width="102.45" height="7.56" fill="#fcf8ce" stroke="#0d0d0d" stroke-width="1.15"/>
<line x1="561.60" y1="36.11" x2="563.80" y2="36.11" stroke="#333" stroke-width="1"/>
<text x="560.40" y="37.91" font-size="7.44" text-anchor="end" fill="#141414">Cell Cycle</text>
<rect x="568.70" y="40.74" width="99.75" height="7.56" fill="#fcf8ce" stroke="#0d0d0d" stroke-width="1.15"/>
<line x1="561.60" y1="44.52" x2="563.80" y2="44.52" stroke="#333" stroke-width="1"/>
<text x="560.40" y="46.32" font-size="7.44" text-anchor="end" fill="#141414">DNA Metabolic Process</text>
<rect x="568.70" y="49.15" width="98.95" height="7.56" fill="#fcf8ce" stroke="#0d0d0d" stroke-width="1.15"/>
<line x1="561.60" y1="52.93" x2="563.80" y2="52.93" stroke="#333" stroke-width="1"/>
<text x="560.40" y="54.73" font-size="7.44" text-anchor="end" fill="#141414">Mitotic Cell Cycle Process</text>
<rect x="568.70" y="57.56" width="94.75" height="7.56" fill="#fcf8ce" stroke="#0d0d0d" stroke-width="1.15"/>
<line x1="561.60" y1="61.34" x2="563.80" y2="61.34" stroke="#333" stroke-width="1"/>
<text x="560.40" y="63.14" font-size="7.44" text-anchor="end" fill="#141414">Mitotic Cell Cycle Phase Transition</text>
<rect x="568.70" y="65.97" width="89.95" height="7.56" fill="#fcf8ce" stroke="#0d0d0d" stroke-width="1.15"/>
<line x1="561.60" y1="69.75" x2="563.80" y2="69.75" stroke="#333" stroke-width="1"/>
<text x="560.40" y="71.55" font-size="7.44" text-anchor="end" fill="#141414">Cell Cycle Phase Transition</text>
<rect x="568.70" y="74.38" width="81.15" height="7.56" fill="#fcf8ce" stroke="#0d0d0d" stroke-width="1.15"/>
<line x1="561.60" y1="78.16" x2="563.80" y2="78.16" stroke="#333" stroke-width="1"/>
<text x="560.40" y="79.96" font-size="7.44" text-anchor="end" fill="#141414">Cell Response DNA Damage Stimulus</text>
<rect x="568.70" y="82.79" width="78.35" height="7.56" fill="#fcf8ce" stroke="#0d0d0d" stroke-width="1.15"/>
<line x1="561.60" y1="86.57" x2="563.80" y2="86.57" stroke="#333" stroke-width="1"/>
<text x="560.40" y="88.37" font-size="7.44" text-anchor="end" fill="#141414">DNA repair</text>
<rect x="568.70" y="91.20" width="77.05" height="7.56" fill="#fcf8ce" stroke="#0d0d0d" stroke-width="1.15"/>
<line x1="561.60" y1="94.98" x2="563.80" y2="94.98" stroke="#333" stroke-width="1"/>
<text x="560.40" y="96.78" font-size="7.44" text-anchor="end" fill="#141414">Regulation Mitotic Cell Cycle Phase Transition</text>
<rect x="568.70" y="99.61" width="75.85" height="7.56" fill="#fcf8ce" stroke="#0d0d0d" stroke-width="1.15"/>
<line x1="561.60" y1="103.39" x2="563.80" y2="103.39" stroke="#333" stroke-width="1"/>
<text x="560.40" y="105.19" font-size="7.44" text-anchor="end" fill="#141414">DNA Replication</text>
<rect x="568.70" y="108.02" width="72.55" height="7.56" fill="#fcf8ce" stroke="#0d0d0d" stroke-width="1.15"/>
<line x1="561.60" y1="111.80" x2="563.80" y2="111.80" stroke="#333" stroke-width="1"/>
<text x="560.40" y="113.60" font-size="7.44" text-anchor="end" fill="#141414">Nuclear Division</text>
<rect x="568.70" y="116.43" width="72.55" height="7.56" fill="#fcf8ce" stroke="#0d0d0d" stroke-width="1.15"/>
<line x1="561.60" y1="120.21" x2="563.80" y2="120.21" stroke="#333" stroke-width="1"/>
<text x="560.40" y="122.01" font-size="7.44" text-anchor="end" fill="#141414">Regulation Cell Cycle Phase Transition</text>
<rect x="568.70" y="124.84" width="72.25" height="7.56" fill="#fcf8ce" stroke="#0d0d0d" stroke-width="1.15"/>
<line x1="561.60" y1="128.62" x2="563.80" y2="128.62" stroke="#333" stroke-width="1"/>
<text x="560.40" y="130.42" font-size="7.44" text-anchor="end" fill="#141414">Mitotic Cell Cycle</text>
<rect x="568.70" y="133.25" width="72.05" height="7.56" fill="#fcf8ce" stroke="#0d0d0d" stroke-width="1.15"/>
<line x1="561.60" y1="137.03" x2="563.80" y2="137.03" stroke="#333" stroke-width="1"/>
<text x="560.40" y="138.83" font-size="7.44" text-anchor="end" fill="#141414">Chromatin Remodeling</text>
<rect x="568.70" y="141.66" width="72.05" height="7.56" fill="#fcf8ce" stroke="#0d0d0d" stroke-width="1.15"/>
<line x1="561.60" y1="145.44" x2="563.80" y2="145.44" stroke="#333" stroke-width="1"/>
<text x="560.40" y="147.24" font-size="7.44" text-anchor="end" fill="#141414">Regulation Cell Cycle</text>
<line x1="563.80" y1="22.90" x2="563.80" y2="150.00" stroke="#555" stroke-width="1"/>
<line x1="563.80" y1="150.00" x2="680.60" y2="150.00" stroke="#555" stroke-width="1"/>
<line x1="568.50" y1="150.00" x2="568.50" y2="152.20" stroke="#444" stroke-width="0.9"/>
<text x="568.50" y="159.60" font-size="7.4" text-anchor="middle" fill="#1a1a1a">0.0</text>
<line x1="590.45" y1="150.00" x2="590.45" y2="152.20" stroke="#444" stroke-width="0.9"/>
<text x="590.45" y="159.60" font-size="7.4" text-anchor="middle" fill="#1a1a1a">2.5</text>
<line x1="612.40" y1="150.00" x2="612.40" y2="152.20" stroke="#444" stroke-width="0.9"/>
<text x="612.40" y="159.60" font-size="7.4" text-anchor="middle" fill="#1a1a1a">5.0</text>
<line x1="634.35" y1="150.00" x2="634.35" y2="152.20" stroke="#444" stroke-width="0.9"/>
<text x="634.35" y="159.60" font-size="7.4" text-anchor="middle" fill="#1a1a1a">7.5</text>
<line x1="656.30" y1="150.00" x2="656.30" y2="152.20" stroke="#444" stroke-width="0.9"/>
<text x="656.30" y="159.60" font-size="7.4" text-anchor="middle" fill="#1a1a1a">10.0</text>
<line x1="678.25" y1="150.00" x2="678.25" y2="152.20" stroke="#444" stroke-width="0.9"/>
<text x="678.25" y="159.60" font-size="7.4" text-anchor="middle" fill="#1a1a1a">12.5</text>
<text x="622.00" y="177.00" font-size="7.6" text-anchor="middle" fill="#111" font-weight="bold">Poly−pattern genes</text>
<rect x="565.70" y="179.50" width="116.00" height="126.80" fill="#fff" stroke="#a8a8a8" stroke-width="0.9"/>
<rect x="570.60" y="180.27" width="105.95" height="7.56" fill="#7fcbb8" stroke="#0d0d0d" stroke-width="1.15"/>
<line x1="563.20" y1="184.05" x2="565.70" y2="184.05" stroke="#333" stroke-width="1"/>
<text x="562.60" y="185.85" font-size="7.44" text-anchor="end" fill="#141414">Nervous System Development</text>
<rect x="570.60" y="188.71" width="80.65" height="7.56" fill="#7fcbb8" stroke="#0d0d0d" stroke-width="1.15"/>
<line x1="563.20" y1="192.49" x2="565.70" y2="192.49" stroke="#333" stroke-width="1"/>
<text x="562.60" y="194.29" font-size="7.44" text-anchor="end" fill="#141414">Neurogenesis</text>
<rect x="570.60" y="197.15" width="78.35" height="7.56" fill="#7fcbb8" stroke="#0d0d0d" stroke-width="1.15"/>
<line x1="563.20" y1="200.93" x2="565.70" y2="200.93" stroke="#333" stroke-width="1"/>
<text x="562.60" y="202.73" font-size="7.44" text-anchor="end" fill="#141414">System Development</text>
<rect x="570.60" y="205.59" width="76.45" height="7.56" fill="#7fcbb8" stroke="#0d0d0d" stroke-width="1.15"/>
<line x1="563.20" y1="209.37" x2="565.70" y2="209.37" stroke="#333" stroke-width="1"/>
<text x="562.60" y="211.17" font-size="7.44" text-anchor="end" fill="#141414">Multicellular Organism Development</text>
<rect x="570.60" y="214.03" width="74.85" height="7.56" fill="#7fcbb8" stroke="#0d0d0d" stroke-width="1.15"/>
<line x1="563.20" y1="217.81" x2="565.70" y2="217.81" stroke="#333" stroke-width="1"/>
<text x="562.60" y="219.61" font-size="7.44" text-anchor="end" fill="#141414">Trans−synaptic Signaling</text>
<rect x="570.60" y="222.47" width="74.35" height="7.56" fill="#7fcbb8" stroke="#0d0d0d" stroke-width="1.15"/>
<line x1="563.20" y1="226.25" x2="565.70" y2="226.25" stroke="#333" stroke-width="1"/>
<text x="562.60" y="228.05" font-size="7.44" text-anchor="end" fill="#141414">Generation of Neurons</text>
<rect x="570.60" y="230.91" width="73.75" height="7.56" fill="#7fcbb8" stroke="#0d0d0d" stroke-width="1.15"/>
<line x1="563.20" y1="234.69" x2="565.70" y2="234.69" stroke="#333" stroke-width="1"/>
<text x="562.60" y="236.49" font-size="7.44" text-anchor="end" fill="#141414">Synaptic Signaling</text>
<rect x="570.60" y="239.35" width="72.85" height="7.56" fill="#7fcbb8" stroke="#0d0d0d" stroke-width="1.15"/>
<line x1="563.20" y1="243.13" x2="565.70" y2="243.13" stroke="#333" stroke-width="1"/>
<text x="562.60" y="244.93" font-size="7.44" text-anchor="end" fill="#141414">Neuron Differentiation</text>
<rect x="570.60" y="247.79" width="72.25" height="7.56" fill="#7fcbb8" stroke="#0d0d0d" stroke-width="1.15"/>
<line x1="563.20" y1="251.57" x2="565.70" y2="251.57" stroke="#333" stroke-width="1"/>
<text x="562.60" y="253.37" font-size="7.44" text-anchor="end" fill="#141414">Chemical Synaptic Transmission</text>
<rect x="570.60" y="256.23" width="72.25" height="7.56" fill="#7fcbb8" stroke="#0d0d0d" stroke-width="1.15"/>
<line x1="563.20" y1="260.01" x2="565.70" y2="260.01" stroke="#333" stroke-width="1"/>
<text x="562.60" y="261.81" font-size="7.44" text-anchor="end" fill="#141414">Anterograde Trans−synaptic Signaling</text>
<rect x="570.60" y="264.67" width="72.25" height="7.56" fill="#7fcbb8" stroke="#0d0d0d" stroke-width="1.15"/>
<line x1="563.20" y1="268.45" x2="565.70" y2="268.45" stroke="#333" stroke-width="1"/>
<text x="562.60" y="270.25" font-size="7.44" text-anchor="end" fill="#141414">Anatomical Structure Development</text>
<rect x="570.60" y="273.11" width="70.45" height="7.56" fill="#7fcbb8" stroke="#0d0d0d" stroke-width="1.15"/>
<line x1="563.20" y1="276.89" x2="565.70" y2="276.89" stroke="#333" stroke-width="1"/>
<text x="562.60" y="278.69" font-size="7.44" text-anchor="end" fill="#141414">Cell Morphogenesis</text>
<rect x="570.60" y="281.55" width="69.35" height="7.56" fill="#7fcbb8" stroke="#0d0d0d" stroke-width="1.15"/>
<line x1="563.20" y1="285.33" x2="565.70" y2="285.33" stroke="#333" stroke-width="1"/>
<text x="562.60" y="287.13" font-size="7.44" text-anchor="end" fill="#141414">Regulation of Signaling</text>
<rect x="570.60" y="289.99" width="68.85" height="7.56" fill="#7fcbb8" stroke="#0d0d0d" stroke-width="1.15"/>
<line x1="563.20" y1="293.77" x2="565.70" y2="293.77" stroke="#333" stroke-width="1"/>
<text x="562.60" y="295.57" font-size="7.44" text-anchor="end" fill="#141414">Developmental Process</text>
<rect x="570.60" y="298.43" width="68.85" height="7.56" fill="#7fcbb8" stroke="#0d0d0d" stroke-width="1.15"/>
<line x1="563.20" y1="302.21" x2="565.70" y2="302.21" stroke="#333" stroke-width="1"/>
<text x="562.60" y="304.01" font-size="7.44" text-anchor="end" fill="#141414">Neuron Projection Development</text>
<line x1="565.70" y1="179.50" x2="565.70" y2="306.30" stroke="#555" stroke-width="1"/>
<line x1="565.70" y1="306.30" x2="681.70" y2="306.30" stroke="#555" stroke-width="1"/>
<line x1="570.40" y1="306.30" x2="570.40" y2="308.50" stroke="#444" stroke-width="0.9"/>
<text x="570.40" y="316.00" font-size="7.4" text-anchor="middle" fill="#1a1a1a">0</text>
<line x1="591.30" y1="306.30" x2="591.30" y2="308.50" stroke="#444" stroke-width="0.9"/>
<text x="591.30" y="316.00" font-size="7.4" text-anchor="middle" fill="#1a1a1a">10</text>
<line x1="612.80" y1="306.30" x2="612.80" y2="308.50" stroke="#444" stroke-width="0.9"/>
<text x="612.80" y="316.00" font-size="7.4" text-anchor="middle" fill="#1a1a1a">20</text>
<line x1="634.00" y1="306.30" x2="634.00" y2="308.50" stroke="#444" stroke-width="0.9"/>
<text x="634.00" y="316.00" font-size="7.4" text-anchor="middle" fill="#1a1a1a">30</text>
<line x1="657.70" y1="306.30" x2="657.70" y2="308.50" stroke="#444" stroke-width="0.9"/>
<text x="657.70" y="316.00" font-size="7.4" text-anchor="middle" fill="#1a1a1a">40</text>
<line x1="681.30" y1="306.30" x2="681.30" y2="308.50" stroke="#444" stroke-width="0.9"/>
<text x="681.30" y="316.00" font-size="7.4" text-anchor="middle" fill="#1a1a1a">50</text>
<text transform="translate(427.3,171.1) rotate(-90)" x="0" y="0" font-size="7.5" text-anchor="middle" fill="#141414">GO Term</text>
<text transform="translate(595.6,327.0) scale(0.87,1)" x="0" y="0" font-size="8.1" fill="#141414">−log<tspan dy="2.3" font-size="5.4">10</tspan><tspan dy="-2.3">(</tspan><tspan font-style="italic">p</tspan> value)</text>
</svg>
</body></html>
